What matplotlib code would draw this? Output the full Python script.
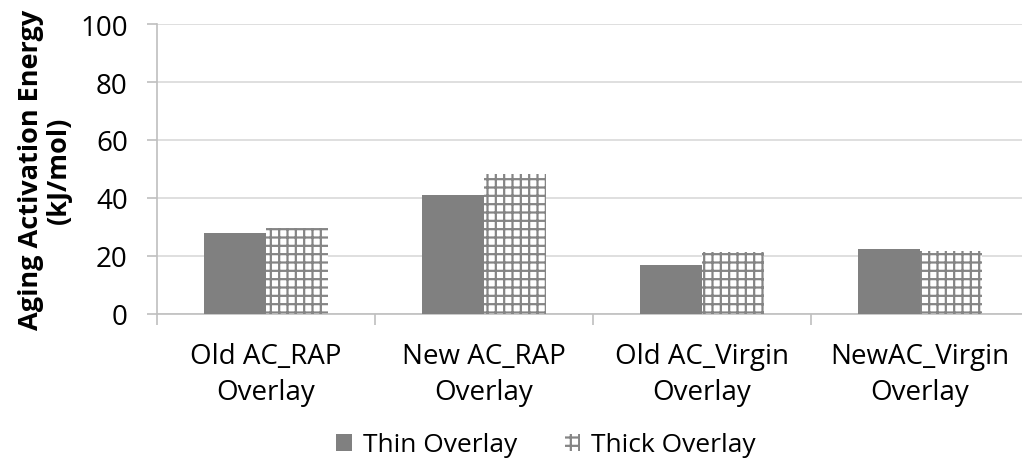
import numpy as np
import matplotlib.pyplot as plt
from matplotlib.patches import Patch

plt.rcParams['font.family'] = ['Open Sans', 'DejaVu Sans']
plt.rcParams['hatch.color'] = '#858585'
plt.rcParams['hatch.linewidth'] = 1.6

# activation energies, kJ/mol
categories = ['Old AC_RAP\nOverlay', 'New AC_RAP\nOverlay',
              'Old AC_Virgin\nOverlay', 'NewAC_Virgin\nOverlay']
thin_overlay = [27.9, 41.1, 17.0, 22.4]
thick_overlay = [29.7, 48.3, 21.3, 21.6]
series_names = ['Thin Overlay', 'Thick Overlay']
yticks = [0, 20, 40, 60, 80, 100]

fig = plt.figure(figsize=(10.22, 4.64), dpi=100)
ax = fig.add_axes([157 / 1022, 149 / 464, 872 / 1022, 290 / 464])

x = np.arange(len(categories))
w = 0.285
ax.bar(x - w / 2, thin_overlay, w, color='#808080', zorder=3)
ax.bar(x + w / 2, thick_overlay, w, color='white', edgecolor='#858585',
       hatch='++', linewidth=0, zorder=3)

ax.set_xlim(-0.5, len(categories) - 0.5)
ax.set_ylim(0, 100)
ax.set_yticks(yticks)
ax.yaxis.grid(True, color='#d9d9d9', linewidth=1.2, zorder=0)

# category boundaries get the visible ticks, labels sit between them
ax.set_xticks(np.arange(len(categories) + 1) - 0.5, minor=True)
ax.set_xticks(x)
ax.set_xticklabels(categories, fontsize=20, linespacing=1.39)
ax.tick_params(axis='x', which='major', length=0, pad=20)
ax.tick_params(axis='x', which='minor', length=8, width=1.2, color='#bfbfbf')
ax.tick_params(axis='y', length=7, width=1.2, color='#bfbfbf', labelsize=20, pad=14)

for s in ['top', 'right']:
    ax.spines[s].set_visible(False)
for s in ['left', 'bottom']:
    ax.spines[s].set_color('#bfbfbf')
    ax.spines[s].set_linewidth(1.2)

ax.set_ylabel('Aging Activation Energy\n(kJ/mol)', fontsize=19.5,
              fontweight='bold', labelpad=6, linespacing=1.1)

handles = [Patch(facecolor='#808080'),
           Patch(facecolor='white', edgecolor='#858585', hatch='++', linewidth=0)]
fig.legend(handles, series_names, loc='center', bbox_to_anchor=(546 / 1022, 1 - 446 / 464),
           ncol=2, frameon=False, fontsize=19, handlelength=0.6, handleheight=0.6,
           handletextpad=0.4, columnspacing=1.8)

fig.savefig('out.png', dpi=100)
